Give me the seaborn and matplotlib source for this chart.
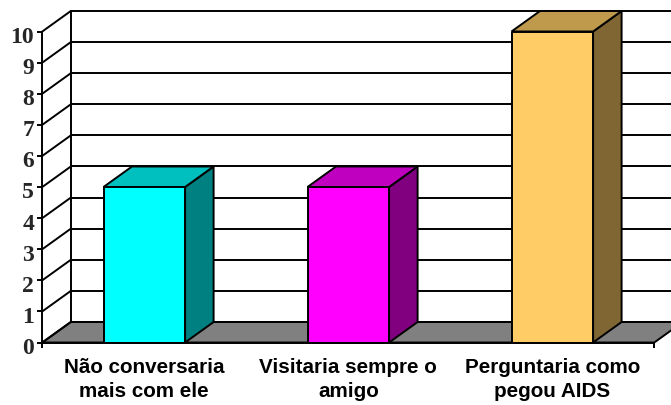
import numpy as np
import pandas as pd
import seaborn as sns
import matplotlib.pyplot as plt
from matplotlib.patches import Polygon
from matplotlib.transforms import ScaledTranslation

sns.set_style("white")

categories = ["Não conversaria\nmais com ele", "Visitaria sempre o\namigo", "Perguntaria como\npegou AIDS"]
values = [5, 5, 10]
y_ticks = [0, 1, 2, 3, 4, 5, 6, 7, 8, 9, 10]
front_colors = ["#00FFFF", "#FF00FF", "#FFCC66"]
side_colors = ["#008080", "#800080", "#806633"]
top_colors = ["#00BFBF", "#BF00BF", "#BF994C"]

# how far the back wall sits behind the front plane, in data units
depth_x = 28.5 / 204
depth_y = 20.5 / 31.1
lw = 1.4

df = pd.DataFrame({"cat": categories, "val": values})

fig = plt.figure(figsize=(6.71, 4.05), dpi=100)
ax = fig.add_axes([42.3 / 671, 62.5 / 405, 612 / 671, 311 / 405])
sns.barplot(data=df, x="cat", y="val", hue="cat", palette=front_colors, legend=False,
            width=0.4, saturation=1, edgecolor="black", linewidth=lw, zorder=5, ax=ax)

ax.set_xlim(-0.5, 2.5)
ax.set_ylim(0, 10)
ax.set_xlabel("")
ax.set_ylabel("")
sns.despine(ax=ax)
for s in ["left", "bottom"]:
    ax.spines[s].set_linewidth(lw)
    ax.spines[s].set_color("black")
    ax.spines[s].set_zorder(6)

x0, x1 = ax.get_xlim()

# floor
ax.add_patch(Polygon([(x0, 0), (x0 + depth_x, depth_y), (x1 + depth_x, depth_y), (x1, 0)],
                     closed=True, facecolor="#808080", edgecolor="black", linewidth=lw,
                     clip_on=False, zorder=1))

# walls and gridlines
for k in y_ticks:
    ax.plot([x0 + depth_x, x1 + depth_x], [k + depth_y, k + depth_y], color="black", lw=lw,
            clip_on=False, zorder=2)
    ax.plot([x0, x0 + depth_x], [k, k + depth_y], color="black", lw=lw, clip_on=False, zorder=2)
ax.plot([x0 + depth_x, x0 + depth_x], [depth_y, y_ticks[-1] + depth_y], color="black", lw=lw,
        clip_on=False, zorder=2)

# side and top of each bar
for p, side, top in zip(ax.patches, side_colors, top_colors):
    left = p.get_x()
    right = left + p.get_width()
    h = p.get_height()
    ax.add_patch(Polygon([(right, 0), (right + depth_x, depth_y), (right + depth_x, h + depth_y), (right, h)],
                         closed=True, facecolor=side, edgecolor="black", linewidth=lw,
                         clip_on=False, zorder=4))
    ax.add_patch(Polygon([(left, h), (left + depth_x, h + depth_y), (right + depth_x, h + depth_y), (right, h)],
                         closed=True, facecolor=top, edgecolor="black", linewidth=lw,
                         clip_on=False, zorder=4))

ax.set_yticks(y_ticks)
ax.set_yticklabels([str(k) for k in y_ticks], family="Liberation Serif", fontweight="bold", fontsize=17)
ax.tick_params(axis="y", left=True, length=3.6, width=lw, color="black", pad=2.2)
# the value labels hang a little below their ticks
shift = ScaledTranslation(0, -2.5 / 72, fig.dpi_scale_trans)
for t in ax.get_yticklabels():
    t.set_transform(t.get_transform() + shift)

# ticks sit between the categories, labels stay centred under the bars
ax.set_xticks(np.arange(len(categories)))
ax.set_xticklabels(categories, family="Liberation Sans", fontweight="bold", fontsize=14.9, linespacing=1.32)
ax.tick_params(axis="x", which="major", bottom=False, pad=8, colors="black")
ax.set_xticks([x0, x1], minor=True)
ax.tick_params(axis="x", which="minor", bottom=True, length=3.6, width=lw, color="black")

fig.savefig("out.png", dpi=100)
